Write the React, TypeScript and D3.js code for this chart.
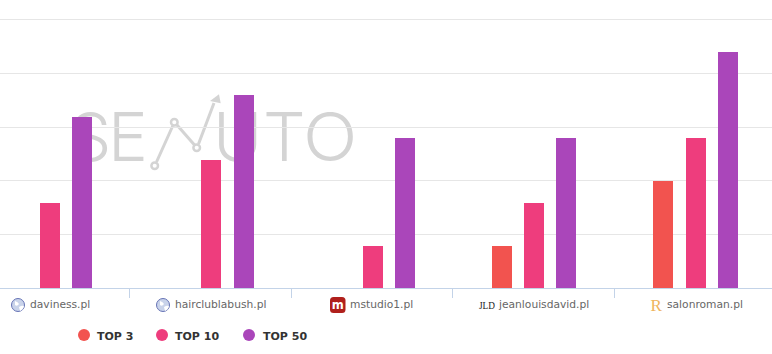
import React from "react";
import * as d3 from "d3";

const W = 772, H = 354;
const categories = ["daviness.pl", "hairclublabush.pl", "mstudio1.pl", "jeanlouisdavid.pl", "salonroman.pl"];
const seriesNames = ["TOP 3", "TOP 10", "TOP 50"];
const seriesColors = ["#f2534f", "#ee3d7d", "#aa46ba"];
const top3 = [0, 0, 0, 4, 10];
const top10 = [8, 12, 4, 8, 14];
const top50 = [16, 18, 14, 14, 22];
const seriesValues = [top3, top10, top50];
const yTicks = [0, 5, 10, 15, 20, 25];

const y = d3.scaleLinear().domain([0, 25]).range([288, 18.9]);
const x0 = d3.scaleBand<string>().domain(categories).range([-32.2, 775.05]);
const x1 = d3.scalePoint<string>().domain(seriesNames).range([-40.875, 23.575]);

const labelX = [30, 175, 350, 499, 667];
const legendX = [84, 162, 249];
const legendTextX = [97, 175, 263];

function Icon({ i }: { i: number }) {
  const cy = 305;
  if (i < 2) {
    const cx = i === 0 ? 18 : 163;
    return (
      <g>
        <circle cx={cx} cy={cy} r={6.5} fill="#c9d3ea" stroke="#6673b5" strokeWidth={1} />
        <path d={`M${cx - 3},${cy - 4}q3,1 4,3q-2,3 -4,1zM${cx + 1},${cy + 2}q3,-2 5,-1q-1,4 -4,5z`} fill="#fff" />
      </g>
    );
  }
  if (i === 2) {
    return (
      <g>
        <rect x={330} y={297} width={15.500} height={16} rx={3.500} fill="#b0201c" />
        <text x={337.800} y={308.500} textAnchor="middle" fontFamily="DejaVu Sans" fontWeight={700} fontSize={11.500} fill="#fff">m</text>
      </g>
    );
  }
  if (i === 3) {
    return <text x={479} y={309} fontFamily="Liberation Serif" fontSize={11} textLength={16} lengthAdjust="spacingAndGlyphs" fill="#222">JLD</text>;
  }
  return <text x={650.500} y={311} fontFamily="Liberation Serif" fontSize={17} fill="#efb560">R</text>;
}

export default function App() {
  return (
    <svg width={W} height={H} style={{ position: "absolute", left: 0, top: 0, background: "#fff" }}>
      <text y={160.500} x="69 108" fontFamily="Inter" fontWeight={300} fontSize={67} fill="#d4d4d4">SE</text>
      <text y={160.500} x="213 263" fontFamily="Inter" fontWeight={300} fontSize={67} fill="#d4d4d4">UT</text>
      <text transform="translate(303,160.500) scale(1.07,1)" fontFamily="Inter" fontWeight={300} fontSize={67} fill="#d4d4d4">O</text>
      <g fill="none" stroke="#d4d4d4" strokeWidth={3}>
        <path d="M156.500,162L172.700,126M177,125L194.500,145M198.500,144L214,103" />
        <circle cx={154.700} cy={165.700} r={3.300} fill="#fff" strokeWidth={2.500} />
        <circle cx={174.300} cy={122.300} r={3.300} fill="#fff" strokeWidth={2.500} />
        <circle cx={196.700} cy={147.700} r={3.300} fill="#fff" strokeWidth={2.500} />
      </g>
      <path d="M210,101L219,94.300L220.700,103.300Z" fill="#d4d4d4" />
      {yTicks.slice(1).map((t) => (
        <line key={t} x1={0} x2={W} y1={Math.round(y(t)) + 0.5} y2={Math.round(y(t)) + 0.5} stroke="#e6e6e6" />
      ))}
      {seriesNames.map((s, si) =>
        categories.map((c, ci) =>
          seriesValues[si][ci] > 0 ? (
            <rect
              key={s + c}
              x={Math.round((x0(c) as number) + x0.bandwidth() / 2 + (x1(s) as number))}
              width={20}
              y={Math.round(y(seriesValues[si][ci])) + 1}
              height={288 - Math.round(y(seriesValues[si][ci])) - 1}
              fill={seriesColors[si]}
            />
          ) : null
        )
      )}
      <line x1={0} x2={W} y1={288.500} y2={288.500} stroke="#c3d3e8" />
      {categories.slice(1).map((c) => (
        <line key={c} x1={Math.round(x0(c) as number) + 0.5} x2={Math.round(x0(c) as number) + 0.5} y1={288} y2={298} stroke="#c3d3e8" />
      ))}
      {categories.map((c, i) => (
        <g key={c}>
          <Icon i={i} />
          <text x={labelX[i]} y={308} fontFamily="DejaVu Sans" fontSize={10.700} fill="#666">{c}</text>
        </g>
      ))}
      {seriesNames.map((s, i) => (
        <g key={s}>
          <circle cx={legendX[i]} cy={335} r={6} fill={seriesColors[i]} />
          <text x={legendTextX[i]} y={340} fontFamily="DejaVu Sans" fontWeight={700} fontSize={11} fill="#333">{s}</text>
        </g>
      ))}
    </svg>
  );
}
